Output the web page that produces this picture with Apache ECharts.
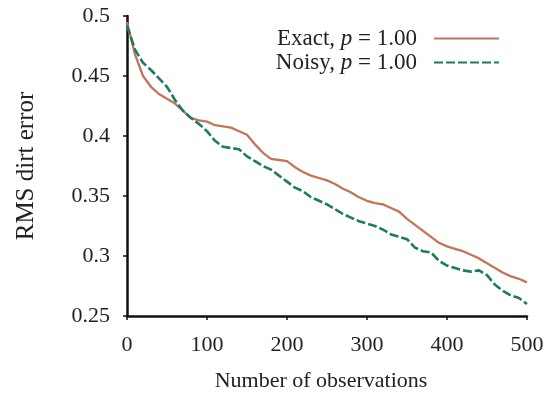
<!DOCTYPE html>
<html><head><meta charset="utf-8">
<script src="https://cdn.jsdelivr.net/npm/echarts@6/dist/echarts.min.js"></script>
<style>html,body{margin:0;padding:0;background:#fff}#c{width:553px;height:397px}</style>
</head><body><div id="c"></div>
<script>
const observations = [0,10,20,30,40,50,60,70,80,90,100,110,120,130,140,150,160,170,180,190,200,210,220,230,240,250,260,270,280,290,300,310,320,330,340,350,360,370,380,390,400,410,420,430,440,450,460,470,480,490,500];
const exactValues = [0.495,0.468,0.450,0.441,0.435,0.431,0.427,0.421,0.415,0.413,0.412,0.409,0.408,0.407,0.404,0.401,0.393,0.386,0.381,0.380,0.379,0.374,0.370,0.367,0.365,0.363,0.360,0.356,0.353,0.349,0.346,0.344,0.343,0.340,0.337,0.331,0.326,0.321,0.316,0.311,0.308,0.306,0.304,0.301,0.298,0.294,0.290,0.286,0.283,0.281,0.278];
const noisyValues = [0.492,0.472,0.461,0.455,0.448,0.441,0.430,0.421,0.415,0.410,0.404,0.396,0.391,0.390,0.389,0.383,0.379,0.375,0.372,0.367,0.362,0.357,0.354,0.349,0.346,0.343,0.339,0.335,0.332,0.329,0.327,0.325,0.322,0.318,0.316,0.314,0.307,0.304,0.303,0.296,0.292,0.290,0.288,0.287,0.288,0.284,0.276,0.271,0.267,0.265,0.260];
const seriesNames = ['Exact', 'Noisy'];
const pValue = '1.00';

const FONT = '"Liberation Serif", "Times New Roman", serif';
const legendText = {
  padding: [0, 12, 0, 0],
  rich: {
    n: {fontFamily: FONT, fontSize: 23, color: '#222'},
    i: {fontFamily: FONT, fontSize: 23, fontStyle: 'italic', color: '#222'}
  }
};
const mkLegend = (name, top) => ({
  orient: 'horizontal', right: 53, top: top, padding: 0,
  align: 'right', itemWidth: 65, itemHeight: 14,
  data: [name],
  itemStyle: {opacity: 0},
  formatter: n => '{n|' + n + ', }{i|p}{n| = ' + pValue + '}',
  textStyle: legendText
});
const chart = echarts.init(document.getElementById('c'));
chart.setOption({
  animation: false,
  backgroundColor: '#fff',
  grid: {left: 127, right: 26, top: 16, bottom: 80},
  legend: [mkLegend(seriesNames[0], 27), mkLegend(seriesNames[1], 51)],
  xAxis: {
    type: 'value', min: 0, max: 500, interval: 100,
    name: 'Number of observations', nameLocation: 'middle', nameGap: 54,
    nameTextStyle: {fontFamily: FONT, fontSize: 22, color: '#222', padding: [0, 12, 0, 0]},
    axisLine: {onZero: false, lineStyle: {color: '#111', width: 2.5}},
    axisTick: {show: true, length: 4, lineStyle: {color: '#111', width: 1.5}},
    axisLabel: {fontFamily: FONT, fontSize: 22, color: '#222', margin: 18},
    splitLine: {show: false}
  },
  yAxis: {
    type: 'value', min: 0.25, max: 0.5, interval: 0.05,
    name: 'RMS dirt error', nameLocation: 'middle', nameGap: 88,
    nameTextStyle: {fontFamily: FONT, fontSize: 25, color: '#222'},
    axisLine: {show: true, lineStyle: {color: '#111', width: 2.5}},
    axisTick: {show: true, length: 4, lineStyle: {color: '#111', width: 1.5}},
    axisLabel: {fontFamily: FONT, fontSize: 22, color: '#222', margin: 17,
      formatter: v => String(parseFloat(v.toFixed(2)))},
    splitLine: {show: false}
  },
  series: [
    {name: seriesNames[0], type: 'line', symbol: 'none', z: 3,
     data: observations.map((x, i) => [x, exactValues[i]]),
     lineStyle: {color: '#c27658', width: 2.3}, itemStyle: {color: '#c27658'}},
    {name: seriesNames[1], type: 'line', symbol: 'none', z: 4,
     data: observations.map((x, i) => [x, noisyValues[i]]),
     lineStyle: {color: '#1c7c5f', width: 2.6, type: [9, 3]}, itemStyle: {color: '#1c7c5f'}}
  ]
});
</script></body></html>
